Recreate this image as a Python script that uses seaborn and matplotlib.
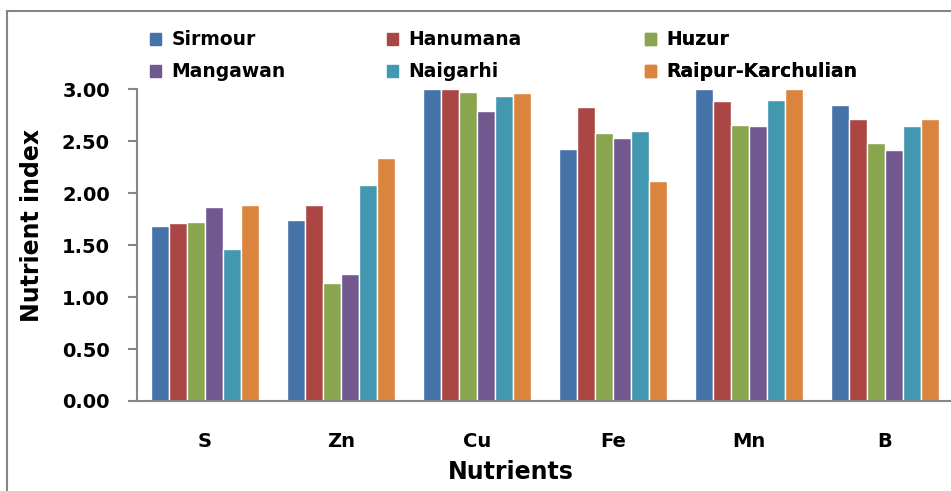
import matplotlib.pyplot as plt
import matplotlib.patches as mpatches
import seaborn as sns
import pandas as pd

nutrients = ['S', 'Zn', 'Cu', 'Fe', 'Mn', 'B']
sites = ['Sirmour', 'Hanumana', 'Huzur', 'Mangawan', 'Naigarhi', 'Raipur-Karchulian']

sirmour = [1.68, 1.74, 3.00, 2.42, 3.00, 2.85]
hanumana = [1.71, 1.88, 3.00, 2.83, 2.88, 2.71]
huzur = [1.72, 1.13, 2.97, 2.58, 2.65, 2.48]
mangawan = [1.87, 1.22, 2.79, 2.53, 2.64, 2.41]
naigarhi = [1.46, 2.08, 2.93, 2.60, 2.89, 2.64]
raipur = [1.88, 2.34, 2.96, 2.12, 3.00, 2.71]

colors = ['#4572A7', '#AA4643', '#89A54E', '#71588F', '#4198AF', '#DB843D']

values = [sirmour, hanumana, huzur, mangawan, naigarhi, raipur]
rows = []
for site, vals in zip(sites, values):
    for n, v in zip(nutrients, vals):
        rows.append({'Nutrient': n, 'Site': site, 'Value': v})
df = pd.DataFrame(rows)

sns.set_style('white')
plt.rcParams['font.family'] = ['DejaVu Sans']
plt.rcParams['text.color'] = 'black'
plt.rcParams['axes.labelcolor'] = 'black'
plt.rcParams['xtick.labelcolor'] = 'black'
plt.rcParams['ytick.labelcolor'] = 'black'

fig = plt.figure(figsize=(9.51, 4.91), dpi=100)
ax = fig.add_axes([0.144, 0.1833, 0.858, 0.6354])

sns.barplot(data=df, x='Nutrient', y='Value', hue='Site', order=nutrients,
            hue_order=sites, palette=colors, width=0.8, saturation=1,
            ax=ax, legend=False)

ax.set_ylim(0, 3.0)
ax.set_xlim(-0.5, 5.5)
ax.set_yticks([0, 0.5, 1.0, 1.5, 2.0, 2.5, 3.0])
ax.set_yticklabels(['%.2f' % t for t in ax.get_yticks()], fontsize=14, fontweight='bold')
ax.set_xticks(range(len(nutrients)))
ax.set_xticklabels(nutrients, fontsize=14, fontweight='bold')
ax.set_xticks([i - 0.5 for i in range(len(nutrients) + 1)], minor=True)
ax.tick_params(axis='x', which='major', length=0, pad=22)
ax.tick_params(axis='x', which='minor', length=6, width=1.5, color='#868686', direction='out')
ax.tick_params(axis='y', length=6.5, width=1.5, color='#868686', direction='out', left=True, pad=13)

for side in ['top', 'right']:
    ax.spines[side].set_visible(False)
for side in ['left', 'bottom']:
    ax.spines[side].set_color('#868686')
    ax.spines[side].set_linewidth(1.5)

ax.set_xlabel('Nutrients', fontsize=17, fontweight='bold')
ax.xaxis.set_label_coords(0.458, -0.19)
ax.set_ylabel('Nutrient index', fontsize=17, fontweight='bold')
ax.yaxis.set_label_coords(-0.114, 0.564)

# legend laid out in three columns, row-major like the original
handles = [mpatches.Patch(color=c, label=s) for c, s in zip(colors, sites)]
col_x = [150 / 951, 387 / 951, 645 / 951]
for k, x0 in enumerate(col_x):
    leg = ax.legend(handles=[handles[k], handles[k + 3]], frameon=False,
                    loc='upper left', bbox_to_anchor=(x0, 0.938),
                    bbox_transform=fig.transFigure, borderpad=0, borderaxespad=0,
                    prop={'weight': 'bold', 'size': 13.5},
                    handlelength=0.6, handleheight=0.6, handletextpad=0.55,
                    labelspacing=0.68)
    ax.add_artist(leg)

border = mpatches.Rectangle((7 / 951, -0.01), 1.0, 1 - 11 / 491 + 0.01,
                            transform=fig.transFigure, fill=False,
                            edgecolor='#868686', linewidth=1.5)
fig.patches.append(border)

fig.savefig('out.png', dpi=100)
